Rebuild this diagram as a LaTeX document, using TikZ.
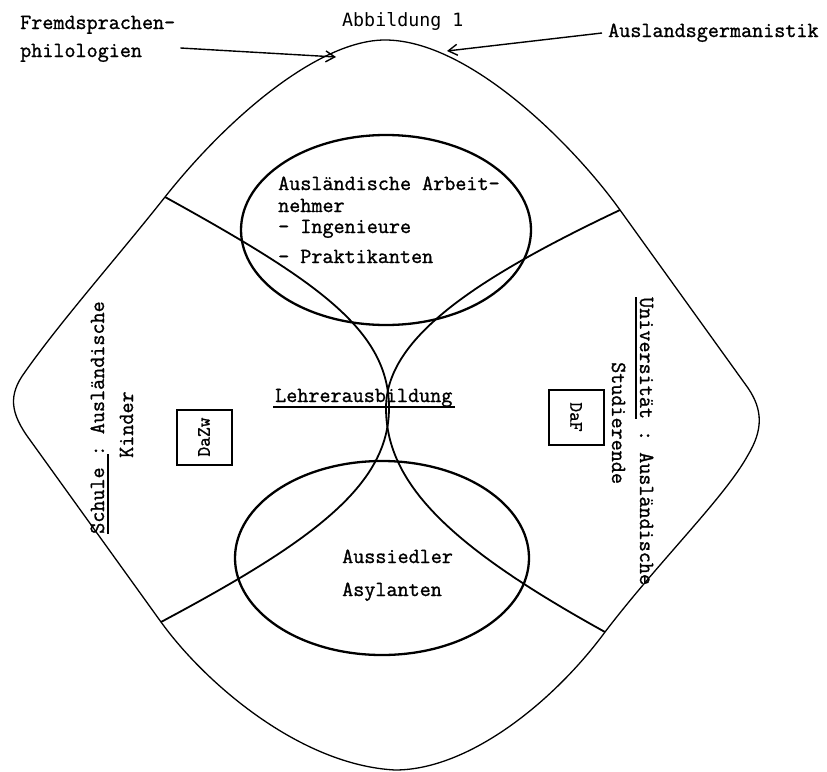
\documentclass[tikz,border=0pt]{standalone}
\usepackage{fontspec}
\setmonofont{Latin Modern Mono}[FakeBold=1.2]
\newfontfamily\headfont{DejaVu Sans Mono}
\usetikzlibrary{positioning,arrows.meta}

\begin{document}
\begin{tikzpicture}[
    x=1pt, y=-1pt,
    >={Straight Barb[length=9pt,width=11pt]},
    txt/.style={font=\fontsize{21.5}{24}\selectfont\ttfamily, inner sep=0pt, anchor=base west},
    field/.style={draw, line width=1.3pt},
    bubble/.style={draw, line width=2.3pt},
    band/.style={draw, line width=1.8pt},
    tag/.style={draw, line width=2pt, minimum size=55pt, inner sep=0pt, font=\fontsize{19}{22}\selectfont\ttfamily},
    underl/.style={line width=2.4pt},
    pointer/.style={->, line width=1.4pt}
]
  \useasboundingbox (0,0) rectangle (827,771);

  % junctions on the outer field
  \coordinate (top) at (385,40);
  \coordinate (bot) at (395,770);
  \coordinate (jul) at (165,197);
  \coordinate (jur) at (620,210);
  \coordinate (jll) at (161,622);
  \coordinate (jlr) at (605,632);
  \coordinate (cenl) at (389,408);
  \coordinate (cenr) at (386,408);
  \coordinate (fa) at (336,57);
  \coordinate (ga) at (447,51);

  % outer field
  \draw[field] (top) .. controls (320,40) and (230,115) .. (jul)
      .. controls (120,254) and (60,322) .. (25,372)
      .. controls (8,395) and (10,413) .. (30,440)
      -- (jll)
      .. controls (205,683) and (300,765) .. (bot)
      .. controls (470,770) and (555,700) .. (jlr)
      .. controls (660,560) and (725,497) .. (748,455)
      .. controls (763,430) and (763,410) .. (748,388)
      -- (jur)
      .. controls (575,147) and (470,40) .. (top) -- cycle;

  % the two ellipses
  \draw[bubble] (386,230) ellipse [x radius=145pt, y radius=95pt];
  \draw[bubble] (382,558) ellipse [x radius=147pt, y radius=97pt];

  % bands meeting in the middle
  \draw[band] (jul) .. controls (317,281) and (389,330) .. (cenl)
              .. controls (389,486) and (311,542) .. (jll);
  \draw[band] (jur) .. controls (470,281) and (386,340) .. (cenr)
              .. controls (386,486) and (455,549) .. (jlr);

  % heading and pointers
  \node[txt, font=\fontsize{18.3}{22}\selectfont\headfont] (head) at (342,27) {Abbildung 1};
  \node[txt] (fr1) at (20,29) {Fremdsprachen-};
  \node[txt, below=28pt of fr1.base west, anchor=base west] (fr2) {philologien};
  \node[txt] (ausl) at (608,37) {Auslandsgermanistik};
  \draw[pointer] ([xshift=5pt,yshift=-19pt]fr1.base east) -- (fa);
  \draw[pointer] ([xshift=-6pt,yshift=4pt]ausl.base west) -- (ga);

  % upper ellipse
  \node[txt] (ar1) at (278,190) {Ausländische Arbeit-};
  \node[txt, below=22pt of ar1.base west, anchor=base west] (ar2) {nehmer};
  \node[txt, below=21pt of ar2.base west, anchor=base west] (ar3) {- Ingenieure};
  \node[txt, below=30pt of ar3.base west, anchor=base west] (ar4) {- Praktikanten};

  % lower ellipse
  \node[txt] (au1) at (342,563) {Aussiedler};
  \node[txt, below=33pt of au1.base west, anchor=base west] (au2) {Asylanten};

  % middle
  \node[txt] (lehr) at (275,402) {Lehrerausbildung};
  \draw[underl] ([xshift=-2pt,yshift=-5pt]lehr.base west) -- ([xshift=2pt,yshift=-5pt]lehr.base east);

  % left side
  \node[txt, rotate=90] (schul) at (104,534) {Schule : Ausländische};
  \node[txt, rotate=90] (kind) at (133,458) {Kinder};
  \draw[underl] ([xshift=4pt]schul.base west) -- ++(0,-80);
  \node[tag, rotate=90] (dazw) at (204,437) {DaZw};

  % right side
  \node[txt, rotate=-90] (uni) at (640,297) {Universität : Ausländische};
  \node[txt, rotate=-90] (stud) at (612,362) {Studierende};
  \draw[underl] ([xshift=-4pt]uni.base west) -- ++(0,122);
  \node[tag, rotate=-90] (daf) at (576,417) {DaF};
\end{tikzpicture}
\end{document}
